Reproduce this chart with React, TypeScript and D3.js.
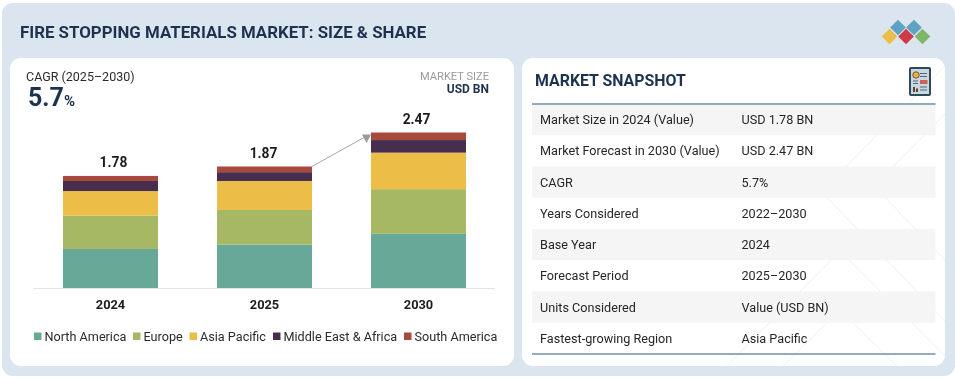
import React from "react";
import * as d3 from "d3";

const title = "FIRE STOPPING MATERIALS MARKET: SIZE & SHARE";
const years = ["2024", "2025", "2030"];
const totals = ["1.78", "1.87", "2.47"];
const regions = ["North America", "Europe", "Asia Pacific", "Middle East & Africa", "South America"];
const regionColors = ["#67a898", "#a6b864", "#ecbd46", "#472d4f", "#a84a3e"];
const northAmerica = [0.62, 0.69, 0.86];
const europe = [0.53, 0.55, 0.71];
const asiaPacific = [0.39, 0.46, 0.58];
const middleEastAfrica = [0.16, 0.14, 0.2];
const southAmerica = [0.08, 0.09, 0.12];
const snapshotLabels = ["Market Size in 2024 (Value)", "Market Forecast in 2030 (Value)", "CAGR", "Years Considered", "Base Year", "Forecast Period", "Units Considered", "Fastest-growing Region"];
const snapshotValues = ["USD 1.78 BN", "USD 2.47 BN", "5.7%", "2022–2030", "2024", "2025–2030", "Value (USD BN)", "Asia Pacific"];
const legendX = [34, 133, 189.5, 273, 404];
const totalLabelShift = [3, -1, -2];

const font = "Roboto, sans-serif";
const dark = "#1f3350";

const rows = years.map((y, i) => ({
  year: y,
  [regions[0]]: northAmerica[i],
  [regions[1]]: europe[i],
  [regions[2]]: asiaPacific[i],
  [regions[3]]: middleEastAfrica[i],
  [regions[4]]: southAmerica[i],
}));
const stacked = d3.stack<any>().keys(regions)(rows);
const x = d3.scaleBand().domain(years).range([37.5, 491.5]).paddingInner(0.383).paddingOuter(0.1655);
const y = d3.scaleLinear().domain([0, 2.47]).range([288, 132.5]);
const rowY = d3.scaleLinear().domain([0, 8]).range([104, 354]);
const topOf = (i: number) => y(stacked[stacked.length - 1][i][1]);

const diamonds = [
  { cx: 889.5, cy: 36.5, c: "#ecbd46" },
  { cx: 898, cy: 27.5, c: "#5fa3c2" },
  { cx: 914, cy: 27.5, c: "#5fa3c2" },
  { cx: 906, cy: 36.5, c: "#cf3a45" },
  { cx: 922.5, cy: 36.5, c: "#7fb76a" },
];
const decoLines = [
  "M717 376L840 251L950 361",
  "M772 377L840 310L908 377",
  "M820 190L947 323",
  "M878 190L947 262",
  "M823 190L945 66",
  "M870 190L947 112",
];

export default function App() {
  return (
    <svg width={955} height={379} style={{ position: "absolute", left: 0, top: 0, background: "#fff" }} fontFamily={font}>
      <defs>
        <clipPath id="rightCard"><rect x={522} y={58} width={423} height={318} /></clipPath>
        <filter id="soft"><feGaussianBlur stdDeviation="0.35" /></filter>
      </defs>
      <g filter="url(#soft)">
        <rect x={2} y={3} width={953} height={373} rx={11} fill="#dbe5f0" />
        <g clipPath="url(#rightCard)" fill="none" stroke="#ccd3dc" strokeWidth={0.7}>
          {decoLines.map((d) => <path key={d} d={d} />)}
        </g>
        <text x={20} y={38} fontSize={16.85} fontWeight={700} fill={dark}>{title}</text>
        {diamonds.map((d, i) => (
          <path key={i} d={`M${d.cx - 7.8} ${d.cy}L${d.cx} ${d.cy - 7.8}L${d.cx + 7.8} ${d.cy}L${d.cx} ${d.cy + 7.8}Z`} fill={d.c} />
        ))}

        <rect x={10} y={58} width={504} height={308} rx={11} fill="#fff" />
        <rect x={522} y={58} width={423} height={308} rx={11} fill="#fff" />
        <g clipPath="url(#rightCard)" fill="none" stroke="#e8eaee" strokeWidth={0.7}>
          {decoLines.map((d) => <path key={d} d={d} />)}
        </g>

        <text x={26} y={81} fontSize={12.5} fill="#2b2b2b">CAGR (2025–2030)</text>
        <text x={28} y={106} fontSize={25} fontWeight={700} fill={dark}>5.7</text>
        <text x={64} y={106} fontSize={15} fontWeight={700} fill={dark}>%</text>
        <text x={489} y={80} fontSize={11.1} textAnchor="end" fill="#9a9a9a">MARKET SIZE</text>
        <text x={489} y={93} fontSize={12} fontWeight={700} textAnchor="end" fill={dark}>USD BN</text>

        {stacked.map((s, k) => (
          <g key={regions[k]} fill={regionColors[k]}>
            {s.map((d, i) => (
              <rect key={years[i]} x={x(years[i])} width={x.bandwidth()} y={y(d[1])} height={y(d[0]) - y(d[1])} />
            ))}
          </g>
        ))}
        <line x1={33.5} x2={495} y1={288.5} y2={288.5} stroke="#e2e4e8" strokeWidth={1} />
        {years.map((yr, i) => (
          <g key={yr}>
            <text x={x(yr)! + x.bandwidth() / 2 + totalLabelShift[i]} y={topOf(i) - 8.5} fontSize={13.8} fontWeight={700} textAnchor="middle" fill="#1c1c1c">{totals[i]}</text>
            <text x={x(yr)! + x.bandwidth() / 2} y={309} fontSize={12.8} fontWeight={700} textAnchor="middle" fill="#1c1c1c">{yr}</text>
          </g>
        ))}
        <line x1={x("2025")! + x.bandwidth()} y1={topOf(1)} x2={364} y2={137.5} stroke="#a8a8a8" strokeWidth={1} />
        <path d={`M371 ${topOf(2) + 2}L362 134.5L366.5 143Z`} fill="#9b9b9b" />

        {regions.map((r, i) => (
          <g key={r}>
            <rect x={legendX[i]} y={332.5} width={7.5} height={7.5} fill={regionColors[i]} />
            <text x={legendX[i] + 10.5} y={341} fontSize={12.65} fill="#2b2b2b">{r}</text>
          </g>
        ))}

        <text x={535} y={86} fontSize={15.9} fontWeight={700} fill={dark}>MARKET SNAPSHOT</text>
        <g>
          <rect x={909} y={67} width={22} height={29} rx={2} fill="#2d4a5c" />
          <rect x={911} y={69} width={18} height={25} fill="#c9d8de" />
          <circle cx={916} cy={75} r={3.2} fill="#e9b04a" stroke="#5b3a2a" strokeWidth={0.8} />
          <rect x={920} y={73} width={7} height={1} fill="#4d6b7c" />
          <rect x={920} y={76} width={7} height={1} fill="#4d6b7c" />
          <rect x={920} y={80} width={7.5} height={4} fill="#d0605a" />
          <rect x={913} y={80.5} width={5} height={1} fill="#4d6b7c" />
          <rect x={913} y={83} width={5} height={1} fill="#4d6b7c" />
          <rect x={913} y={87} width={2} height={5} fill="#5c4033" />
          <rect x={916} y={88.5} width={2} height={3.5} fill="#5c4033" />
          <rect x={920} y={86.5} width={7} height={1} fill="#4d6b7c" />
          <rect x={920} y={89.5} width={7} height={1} fill="#4d6b7c" />
        </g>

        {snapshotLabels.map((l, i) => (
          <g key={l}>
            {i % 2 === 0 && <rect x={532} y={rowY(i)} width={403.5} height={rowY(i + 1) - rowY(i)} fill="#f5f5f6" />}
            <text x={540} y={(rowY(i) + rowY(i + 1)) / 2 + 4.6} fontSize={12.65} fill="#262626">{l}</text>
            <text x={741.5} y={(rowY(i) + rowY(i + 1)) / 2 + 4.6} fontSize={12.65} fill="#262626">{snapshotValues[i]}</text>
          </g>
        ))}
        <line x1={532} x2={935.5} y1={104} y2={104} stroke="#6d8fac" strokeWidth={1.5} />
        <line x1={532} x2={935.5} y1={354} y2={354} stroke="#6d8fac" strokeWidth={1.5} />
      </g>
    </svg>
  );
}
